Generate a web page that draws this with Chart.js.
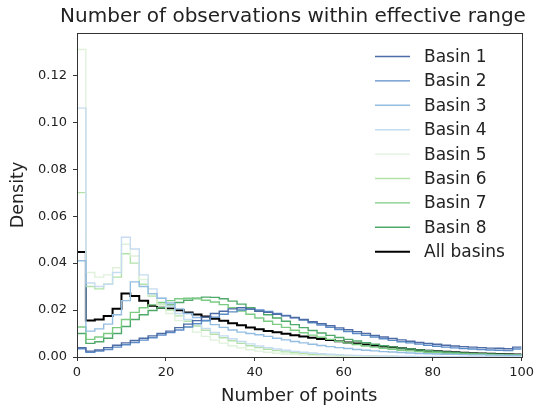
<!DOCTYPE html>
<html>
<head>
<meta charset="utf-8">
<script src="https://cdn.jsdelivr.net/npm/chart.js@4.4.0/dist/chart.umd.min.js"></script>
<style>
  html, body { margin: 0; padding: 0; background: #fff; }
  #wrap { width: 538px; height: 407px; }
</style>
</head>
<body>
<div id="wrap"><canvas id="histChart" width="538" height="407"></canvas></div>
<script>
// bin edges 0,2,...,100 (50 bins)
const binEdges = [];
for (let e = 0; e <= 100; e += 2) binEdges.push(e);

const basinNames = ['Basin 1', 'Basin 2', 'Basin 3', 'Basin 4', 'Basin 5', 'Basin 6', 'Basin 7', 'Basin 8', 'All basins'];
const basinColors = ['#4d6ca6', '#5b8cc8', '#93bde1', '#c6dcf0', '#e0f1dc', '#b2e2aa', '#7ccb83', '#4fa96a', '#000000'];

const basin1 = [0.0040, 0.0025, 0.0030, 0.0040, 0.0050, 0.0060, 0.0070, 0.0080, 0.0090, 0.0100,
  0.0110, 0.0125, 0.0140, 0.0155, 0.0170, 0.0185, 0.0195, 0.0205, 0.0210, 0.0205,
  0.0195, 0.0190, 0.0182, 0.0175, 0.0168, 0.0160, 0.0150, 0.0142, 0.0133, 0.0124,
  0.0116, 0.0108, 0.0100, 0.0092, 0.0085, 0.0079, 0.0073, 0.0067, 0.0062, 0.0058,
  0.0054, 0.0050, 0.0047, 0.0044, 0.0042, 0.0040, 0.0038, 0.0037, 0.0035, 0.0042];
const basin2 = [0.0035, 0.0020, 0.0025, 0.0032, 0.0042, 0.0052, 0.0062, 0.0072, 0.0082, 0.0093,
  0.0104, 0.0115, 0.0128, 0.0142, 0.0156, 0.0170, 0.0182, 0.0192, 0.0200, 0.0203,
  0.0200, 0.0194, 0.0186, 0.0177, 0.0167, 0.0157, 0.0146, 0.0136, 0.0126, 0.0117,
  0.0108, 0.0100, 0.0092, 0.0085, 0.0078, 0.0071, 0.0065, 0.0060, 0.0055, 0.0050,
  0.0046, 0.0042, 0.0039, 0.0036, 0.0034, 0.0032, 0.0030, 0.0029, 0.0027, 0.0034];
const basin3 = [0.0410, 0.0110, 0.0120, 0.0140, 0.0180, 0.0240, 0.0320, 0.0300, 0.0270, 0.0250,
  0.0230, 0.0205, 0.0185, 0.0168, 0.0152, 0.0138, 0.0126, 0.0115, 0.0106, 0.0100,
  0.0095, 0.0088, 0.0080, 0.0073, 0.0066, 0.0060, 0.0054, 0.0049, 0.0044, 0.0040,
  0.0036, 0.0032, 0.0029, 0.0026, 0.0023, 0.0021, 0.0019, 0.0017, 0.0015, 0.0014,
  0.0013, 0.0012, 0.0011, 0.0010, 0.0009, 0.0009, 0.0008, 0.0008, 0.0007, 0.0007];
const basin4 = [0.1060, 0.0315, 0.0300, 0.0310, 0.0360, 0.0510, 0.0460, 0.0350, 0.0290, 0.0250,
  0.0215, 0.0185, 0.0160, 0.0140, 0.0122, 0.0105, 0.0090, 0.0078, 0.0066, 0.0056,
  0.0047, 0.0040, 0.0034, 0.0029, 0.0024, 0.0020, 0.0017, 0.0014, 0.0012, 0.0010,
  0.0008, 0.0007, 0.0006, 0.0005, 0.0004, 0.0004, 0.0003, 0.0003, 0.0002, 0.0002,
  0.0002, 0.0001, 0.0001, 0.0001, 0.0001, 0.0001, 0.0001, 0.0001, 0.0001, 0.0001];
const basin5 = [0.1310, 0.0360, 0.0340, 0.0350, 0.0380, 0.0480, 0.0430, 0.0330, 0.0265, 0.0220,
  0.0185, 0.0155, 0.0128, 0.0106, 0.0088, 0.0072, 0.0059, 0.0048, 0.0039, 0.0031,
  0.0025, 0.0020, 0.0016, 0.0013, 0.0010, 0.0008, 0.0006, 0.0005, 0.0004, 0.0003,
  0.0002, 0.0002, 0.0001, 0.0001, 0.0001, 0.0001, 0.0000, 0.0000, 0.0000, 0.0000,
  0.0000, 0.0000, 0.0000, 0.0000, 0.0000, 0.0000, 0.0000, 0.0000, 0.0000, 0.0000];
const basin6 = [0.0700, 0.0300, 0.0290, 0.0310, 0.0340, 0.0440, 0.0400, 0.0310, 0.0260, 0.0225,
  0.0200, 0.0175, 0.0152, 0.0132, 0.0114, 0.0097, 0.0082, 0.0069, 0.0058, 0.0048,
  0.0040, 0.0033, 0.0027, 0.0022, 0.0018, 0.0015, 0.0012, 0.0010, 0.0008, 0.0006,
  0.0005, 0.0004, 0.0003, 0.0003, 0.0002, 0.0002, 0.0001, 0.0001, 0.0001, 0.0001,
  0.0001, 0.0000, 0.0000, 0.0000, 0.0000, 0.0000, 0.0000, 0.0000, 0.0000, 0.0000];
const basin7 = [0.0128, 0.0075, 0.0085, 0.0100, 0.0125, 0.0160, 0.0190, 0.0210, 0.0222, 0.0232,
  0.0240, 0.0248, 0.0250, 0.0248, 0.0242, 0.0234, 0.0223, 0.0210, 0.0196, 0.0182,
  0.0166, 0.0152, 0.0139, 0.0126, 0.0114, 0.0103, 0.0093, 0.0084, 0.0075, 0.0067,
  0.0060, 0.0053, 0.0047, 0.0042, 0.0037, 0.0033, 0.0029, 0.0026, 0.0023, 0.0020,
  0.0018, 0.0016, 0.0014, 0.0013, 0.0012, 0.0011, 0.0010, 0.0009, 0.0008, 0.0008];
const basin8 = [0.0100, 0.0058, 0.0065, 0.0080, 0.0100, 0.0130, 0.0160, 0.0180, 0.0198, 0.0210,
  0.0222, 0.0232, 0.0242, 0.0250, 0.0255, 0.0254, 0.0248, 0.0238, 0.0225, 0.0210,
  0.0195, 0.0180, 0.0166, 0.0152, 0.0138, 0.0125, 0.0113, 0.0102, 0.0092, 0.0083,
  0.0075, 0.0068, 0.0061, 0.0054, 0.0048, 0.0043, 0.0038, 0.0034, 0.0030, 0.0027,
  0.0024, 0.0021, 0.0019, 0.0017, 0.0015, 0.0014, 0.0013, 0.0012, 0.0011, 0.0010];
const allBasins = [0.0447, 0.0155, 0.0160, 0.0175, 0.0205, 0.0270, 0.0260, 0.0240, 0.0218, 0.0210,
  0.0207, 0.0199, 0.0190, 0.0181, 0.0172, 0.0163, 0.0154, 0.0144, 0.0135, 0.0126,
  0.0118, 0.0111, 0.0105, 0.0099, 0.0093, 0.0087, 0.0082, 0.0077, 0.0072, 0.0067,
  0.0062, 0.0057, 0.0053, 0.0049, 0.0045, 0.0041, 0.0037, 0.0033, 0.0030, 0.0027,
  0.0024, 0.0022, 0.0020, 0.0018, 0.0016, 0.0015, 0.0014, 0.0013, 0.0012, 0.0011];

const seriesValues = [basin1, basin2, basin3, basin4, basin5, basin6, basin7, basin8, allBasins];

const yTicks = [0, 0.02, 0.04, 0.06, 0.08, 0.10, 0.12];
const xTicks = [0, 20, 40, 60, 80, 100];

// step points: value of each bin at its left edge, last edge repeats last bin
function stepPoints(vals) {
  const pts = vals.map((v, i) => ({ x: binEdges[i], y: v }));
  pts.push({ x: binEdges[vals.length], y: vals[vals.length - 1] });
  return pts;
}

const datasets = seriesValues.map((vals, i) => ({
  label: basinNames[i],
  data: stepPoints(vals),
  borderColor: basinColors[i],
  borderWidth: i === 8 ? 2 : 1.4,
  stepped: 'before',   // horizontal first, then vertical at the next edge
  pointRadius: 0,
  fill: false
}));

const FONT = 'DejaVu Sans';

const framePlugin = {
  id: 'frameAndText',
  afterDraw(chart) {
    const { ctx, chartArea: a } = chart;
    ctx.save();
    ctx.strokeStyle = '#333';
    ctx.lineWidth = 1;
    ctx.strokeRect(Math.round(a.left) + 0.5, Math.round(a.top) + 0.5,
      Math.round(a.right - a.left), Math.round(a.bottom - a.top));

    // title
    ctx.fillStyle = '#222';
    ctx.font = '20px "' + FONT + '"';
    ctx.textAlign = 'center';
    ctx.textBaseline = 'middle';
    ctx.fillText('Number of observations within effective range', 293, 17);

    // legend inside the axes, top right
    ctx.font = '17px "' + FONT + '"';
    ctx.textAlign = 'left';
    chart.data.datasets.forEach((ds, i) => {
      const y = 56.5 + i * 24.4;
      ctx.strokeStyle = ds.borderColor;
      ctx.lineWidth = ds.borderWidth;
      ctx.beginPath();
      ctx.moveTo(375, y);
      ctx.lineTo(410, y);
      ctx.stroke();
      ctx.fillStyle = '#222';
      ctx.fillText(ds.label, 424, y + 1);
    });
    ctx.restore();
  }
};

new Chart(document.getElementById('histChart').getContext('2d'), {
  type: 'line',
  data: { datasets },
  options: {
    responsive: false,
    animation: false,
    layout: { padding: { top: 33, right: 15, left: 0, bottom: 0 } },
    plugins: {
      legend: { display: false },
      tooltip: { enabled: false }
    },
    scales: {
      x: {
        type: 'linear',
        min: 0,
        max: 100,
        afterBuildTicks: (s) => { s.ticks = xTicks.map(v => ({ value: v })); },
        afterFit: (s) => { s.height = 50; },
        grid: { drawOnChartArea: false, drawTicks: true, tickLength: 4, color: '#333' },
        border: { display: false },
        ticks: { color: '#222', font: { family: FONT, size: 13 }, padding: 4, maxRotation: 0 },
        title: { display: true, text: 'Number of points', color: '#222', font: { family: FONT, size: 18 }, padding: { top: 1, bottom: 0 } }
      },
      y: {
        type: 'linear',
        min: 0,
        max: 0.138,
        afterBuildTicks: (s) => { s.ticks = yTicks.map(v => ({ value: v })); },
        afterFit: (s) => { s.width = 77; },
        grid: { drawOnChartArea: false, drawTicks: true, tickLength: 4, color: '#333' },
        border: { display: false },
        ticks: { color: '#222', font: { family: FONT, size: 13 }, padding: 6, callback: (v) => v.toFixed(2) },
        title: { display: true, text: 'Density', color: '#222', font: { family: FONT, size: 17.5 }, padding: { top: 8, bottom: 0 } }
      }
    }
  },
  plugins: [framePlugin]
});
</script>
</body>
</html>
